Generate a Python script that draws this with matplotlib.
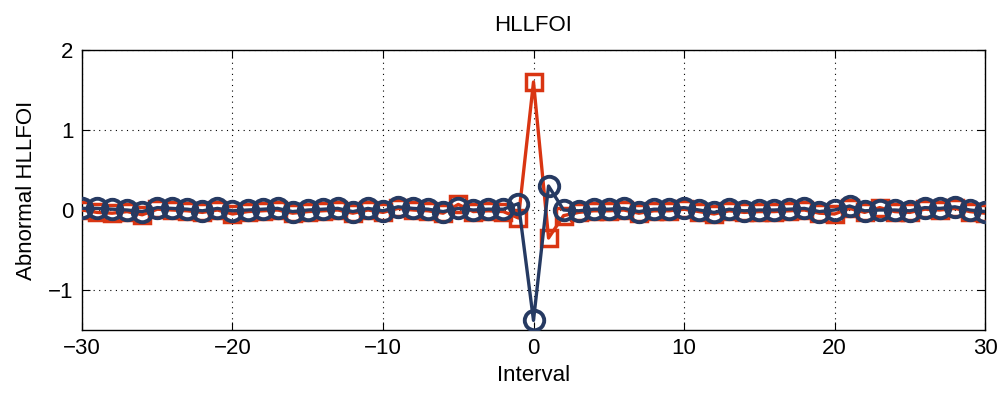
import matplotlib
matplotlib.use("Agg")
import matplotlib.pyplot as plt
import numpy as np

intervals = list(range(-30, 31))

# Abnormal HLLFOI, series drawn with squares
series_sq = [
    0.00, -0.03, -0.04, -0.02, -0.06, 0.01, 0.00, -0.01, -0.03, 0.00,
    -0.05, -0.02, -0.01, 0.00, -0.04, -0.02, -0.01, 0.00, -0.04, 0.00,
    -0.03, 0.02, 0.00, -0.01, -0.04, 0.07, -0.02, -0.01, -0.02, -0.10,
    1.60, -0.35, -0.07, -0.03, -0.01, -0.01, 0.00, -0.04, -0.01, -0.01,
    0.01, -0.02, -0.05, -0.01, -0.03, -0.02, -0.02, -0.01, 0.00, -0.04,
    -0.05, 0.02, -0.03, 0.03, -0.02, -0.03, 0.01, 0.00, 0.02, -0.02,
    -0.04,
]

# Abnormal HLLFOI, series drawn with circles
series_ci = [
    0.02, 0.02, 0.01, 0.00, -0.02, 0.03, 0.02, 0.01, -0.01, 0.02,
    -0.01, 0.00, 0.01, 0.02, -0.02, 0.00, 0.01, 0.02, -0.02, 0.02,
    -0.01, 0.04, 0.02, 0.01, -0.02, 0.02, 0.00, 0.01, 0.01, 0.08,
    -1.38, 0.30, 0.00, -0.01, 0.01, 0.01, 0.02, -0.02, 0.01, 0.01,
    0.03, 0.00, -0.03, 0.01, -0.01, 0.00, 0.00, 0.01, 0.02, -0.02,
    0.00, 0.05, -0.01, 0.00, 0.00, -0.01, 0.03, 0.02, 0.04, 0.00,
    -0.02,
]

x_ticks = [-30, -20, -10, 0, 10, 20, 30]
y_ticks = [-1, 0, 1, 2]

plt.rcParams['font.family'] = ['Liberation Sans', 'DejaVu Sans']

fig = plt.figure(figsize=(10.02, 3.96), dpi=100)
ax = fig.add_axes([82 / 1002, 66 / 396, 903 / 1002, 280 / 396])

red = '#d93512'
navy = '#263a62'

ax.plot(intervals, series_sq, color=red, lw=2.4, marker='s', ms=11,
        mfc='none', mec=red, mew=2.5, zorder=3)
ax.plot(intervals, series_ci, color=navy, lw=2.4, marker='o', ms=14,
        mfc='none', mec=navy, mew=2.8, zorder=4)

ax.set_xlim(-30, 30)
ax.set_ylim(-1.5, 2)
ax.set_xticks(x_ticks)
ax.set_yticks(y_ticks)
ax.set_yticklabels(['\u22121', '0', '1', '2'])
ax.set_xticklabels(['\u221230', '\u221220', '\u221210', '0', '10', '20', '30'])

ax.grid(True, linestyle=(0, (1, 4)), color='black', linewidth=0.8)
ax.tick_params(direction='in', top=True, right=True, length=6,
               labelsize=16, width=0.8, pad=6)
for s in ax.spines.values():
    s.set_linewidth(1.0)

ax.set_title('HLLFOI', fontsize=16, pad=14)
ax.set_xlabel('Interval', fontsize=16, labelpad=4)
ax.set_ylabel('Abnormal HLLFOI', fontsize=16, labelpad=8)

fig.savefig('out.png', dpi=100)
